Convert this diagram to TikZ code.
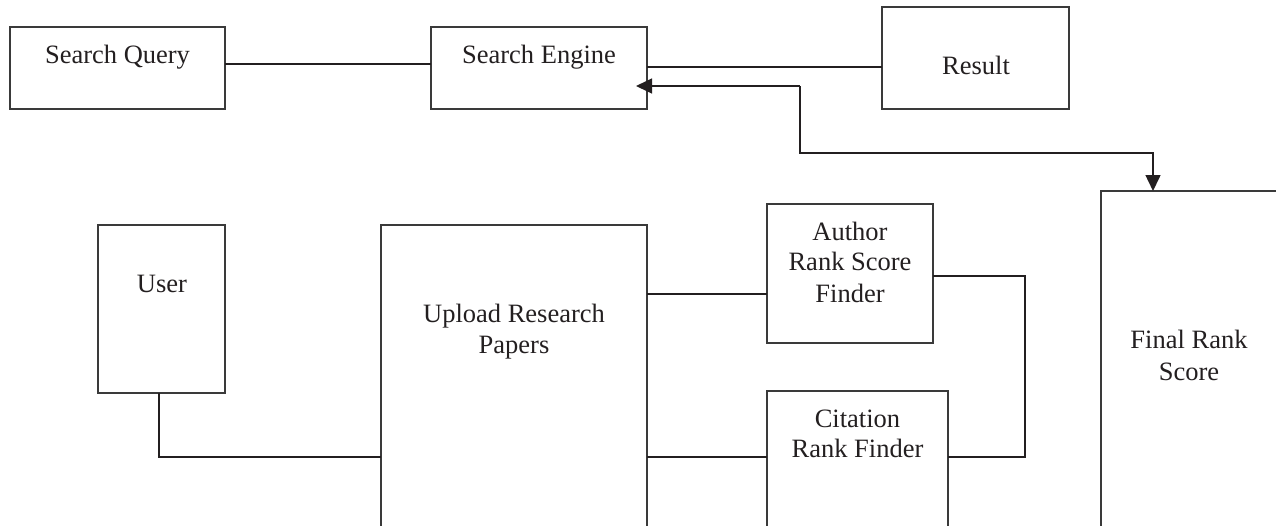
\documentclass[tikz,border=0pt]{standalone}
\usepackage{fontspec}
\setmainfont{Liberation Serif}
\usetikzlibrary{arrows.meta}
\definecolor{ink}{HTML}{231F20}
\definecolor{frame}{HTML}{3A3A3A}
\tikzset{
  box/.style={draw=frame, line width=1.2pt, rectangle, inner sep=0pt, outer sep=0pt, anchor=north west},
  lbl/.style={anchor=base, inner sep=0pt, text=ink, font=\fontsize{26.5}{31}\selectfont},
  wire/.style={draw=ink, line width=1.5pt},
  tip/.style={-{Triangle[length=16pt,width=15pt]}}
}
\begin{document}
\begin{tikzpicture}[x=1pt, y=-1pt]
\useasboundingbox (0,0) rectangle (1276,525);
\clip (0,0) rectangle (1276,525);

% boxes
\node[box, minimum width=215pt, minimum height=82pt]  (sq)   at (10,27)   {};
\node[box, minimum width=216pt, minimum height=82pt]  (se)   at (431,27)  {};
\node[box, minimum width=187pt, minimum height=102pt] (res)  at (882,7)   {};
\node[box, minimum width=127pt, minimum height=168pt] (usr)  at (98,225)  {};
\node[box, minimum width=266pt, minimum height=340pt] (upl)  at (381,225) {};
\node[box, minimum width=166pt, minimum height=139pt] (auth) at (767,204) {};
\node[box, minimum width=181pt, minimum height=170pt] (cit)  at (767,391) {};
\node[box, minimum width=200pt, minimum height=370pt] (fin)  at (1101,191) {};

% labels
\node[lbl] (sq-t)   at (117.5,63) {Search Query};
\node[lbl] (se-t)   at (539,63)   {Search Engine};
\node[lbl] (res-t)  at (976,74)   {Result};
\node[lbl] (usr-t)  at (162,292)  {User};
\node[lbl] (upl-t1) at (514,322)  {Upload Research};
\node[lbl] (upl-t2) at (514,353)  {Papers};
\node[lbl] (auth-t1) at (850,240) {Author};
\node[lbl] (auth-t2) at (850,270) {Rank Score};
\node[lbl] (auth-t3) at (850,302) {Finder};
\node[lbl] (cit-t1) at (857.5,427) {Citation};
\node[lbl] (cit-t2) at (857.5,457) {Rank Finder};
\node[lbl] (fin-t1) at (1189,348) {Final Rank};
\node[lbl] (fin-t2) at (1189,380) {Score};

% connectors
\draw[wire] (sq.east |- 0,64) -- (se.west |- 0,64);
\draw[wire] (se.east |- 0,67) -- (res.west |- 0,67);
\draw[wire, tip] (800,86) -- ([xshift=-11pt]se.east |- 0,86);
\draw[wire, tip] (800,86) -- (800,153) -| ([xshift=52pt]fin.north west);
\draw[wire] ([xshift=-2.5pt]usr.south) |- (upl.west |- 0,457);
\draw[wire] (upl.east |- 0,294) -- (auth.west |- 0,294);
\draw[wire] (upl.east |- 0,457) -- (cit.west |- 0,457);
\draw[wire] (auth.east |- 0,276) -- (1025,276) -- (1025,457) -- (cit.east |- 0,457);
\end{tikzpicture}
\end{document}
